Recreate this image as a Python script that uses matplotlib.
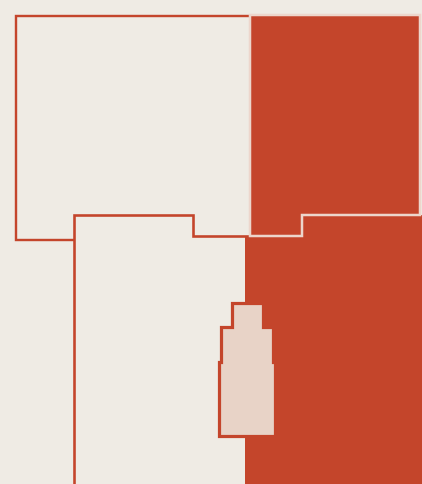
import matplotlib
matplotlib.use("Agg")
import matplotlib.pyplot as plt
from matplotlib.patches import Polygon

# colours
bg = "#EFEBE4"
red = "#C4452B"
pink = "#E8D3C7"
pink_edge = "#EDD6CC"

# outlines, in pixel coords (x right, y down)
frame_top_left = [(16.2, 15.5), (300, 15.5), (300, 239.5), (16.2, 239.5)]
frame_bottom = [(74, 500), (74, 215.3), (192.5, 215.3), (192.5, 236.3),
                (260, 236.3), (260, 500)]
block_bottom_right = [(245.3, 236.3), (302.3, 236.3), (302.3, 215.3),
                      (440, 215.3), (440, 500), (245.3, 500)]
block_top_right = [(249.5, 15.3), (420.2, 15.3), (420.2, 215.3), (302.3, 215.3),
                   (302.3, 235.7), (249.5, 235.7)]
tower = [(231.7, 302.6), (262.5, 302.6), (262.5, 326.7), (273.3, 326.7),
         (273.3, 362.0), (275.3, 362.0), (275.3, 435.7), (219.0, 435.7),
         (219.0, 362.0), (221.0, 362.0), (221.0, 326.7), (231.7, 326.7)]

px = 72 / 100  # pixel -> point at dpi 100

fig = plt.figure(figsize=(4.22, 4.84), dpi=100)
fig.patch.set_facecolor(bg)
ax = fig.add_axes([0, 0, 1, 1])
ax.set_facecolor(bg)
ax.set_xlim(0, 422)
ax.set_ylim(484, 0)
ax.axis("off")

ax.add_patch(Polygon(frame_top_left, closed=True, facecolor=bg,
                     edgecolor=red, lw=2.4 * px, joinstyle="miter"))
ax.add_patch(Polygon(frame_bottom, closed=True, facecolor=bg,
                     edgecolor=red, lw=2.6 * px, joinstyle="miter"))
ax.add_patch(Polygon(block_bottom_right, closed=True, facecolor=red,
                     edgecolor="none"))
ax.add_patch(Polygon(block_top_right, closed=True, facecolor=red,
                     edgecolor=pink_edge, lw=2.5 * px, joinstyle="miter"))
ax.add_patch(Polygon(tower, closed=True, facecolor=pink,
                     edgecolor=red, lw=3.2 * px, joinstyle="miter"))

fig.savefig("out.png", dpi=100, facecolor=bg)
